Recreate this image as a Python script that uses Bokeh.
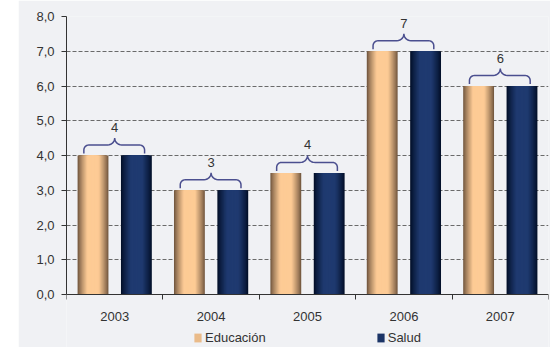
import numpy as np
from bokeh.plotting import figure
from bokeh.layouts import row
from bokeh.models import Range1d, FixedTicker, Legend, LegendItem, Spacer
from bokeh.core.properties import value
from bokeh.embed import file_html
from bokeh.resources import INLINE

# ---- data ----
years = ["2003", "2004", "2005", "2006", "2007"]
educacion = [4.0, 3.0, 3.5, 7.0, 6.0]
salud = [4.0, 3.0, 3.5, 7.0, 6.0]
group_labels = ["4", "3", "4", "7", "6"]
y_ticks = [0, 1, 2, 3, 4, 5, 6, 7, 8]
y_tick_labels = ["0,0", "1,0", "2,0", "3,0", "4,0", "5,0", "6,0", "7,0", "8,0"]

BG = "#F0F1F4"
FONT = "Liberation Sans"
TXT = "#333333"

FIG_W, FIG_H = 532, 347
B_LEFT, B_RIGHT, B_TOP, B_BOTTOM = 48, 2, 16, 0
frame_w = FIG_W - B_LEFT - B_RIGHT
frame_h = FIG_H - B_TOP - B_BOTTOM
ppx = frame_w / 5.0          # px per category
ppy = 278 / 8.0              # px per unit (0..8 spans 278 px)
y_start = -(frame_h - 8 * ppy) / ppy

p = figure(width=FIG_W, height=FIG_H, x_range=Range1d(0, 5), y_range=Range1d(y_start, 8),
           output_backend="svg", toolbar_location=None,
           min_border_left=B_LEFT, min_border_right=B_RIGHT, min_border_top=B_TOP,
           min_border_bottom=B_BOTTOM,
           background_fill_color=BG, border_fill_color=BG, outline_line_color=None)

centers = [i + 0.5 for i in range(len(years))]

# x axis at y=0: labels at centers, tick marks at category boundaries
xa = p.xaxis[0]
xa.fixed_location = 0
xa.bounds = (0, 5)
xa.ticker = FixedTicker(ticks=centers, minor_ticks=list(range(len(years) + 1)))
xa.major_label_overrides = {c: y for c, y in zip(centers, years)}
xa.major_tick_out = 0
xa.major_tick_in = 0
xa.major_tick_line_color = BG
xa.minor_tick_out = 5
xa.minor_tick_in = 0
xa.minor_tick_line_color = TXT
xa.axis_line_color = TXT
xa.major_label_standoff = 12
xa.major_label_text_font = FONT
xa.major_label_text_font_size = "13px"
xa.major_label_text_color = TXT

ya = p.yaxis[0]
ya.bounds = (0, 8)
ya.ticker = FixedTicker(ticks=y_ticks, minor_ticks=[])
ya.major_label_overrides = {t: l for t, l in zip(y_ticks, y_tick_labels)}
ya.major_tick_out = 5
ya.major_tick_in = 0
ya.major_tick_line_color = TXT
ya.axis_line_color = TXT
ya.major_label_standoff = 7
ya.major_label_text_font = FONT
ya.major_label_text_font_size = "13px"
ya.major_label_text_color = TXT

p.xgrid.visible = False
p.ygrid.ticker = FixedTicker(ticks=y_ticks[1:])
p.ygrid.grid_line_color = "#6A6A6A"
p.ygrid.grid_line_dash = "4 2"
p.ygrid.grid_line_width = 1


def hex2rgb(h):
    h = h.lstrip("#")
    return np.array([int(h[i:i + 2], 16) for i in (0, 2, 4)], dtype=float)


def mix(a, b, t):
    c = hex2rgb(a) * (1 - t) + hex2rgb(b) * t
    return "#%02x%02x%02x" % tuple(int(round(v)) for v in c)


bar_w = 0.32
off = 0.225
N = 14
cx = np.array(centers)

legend_refs = {}
for name, vals, xoff, edge, mid in [("Educación", educacion, -off, "#765A41", "#FDCB95"),
                                     ("Salud", salud, off, "#03102A", "#1F3A70")]:
    for k in range(N):
        frac = 1 - k / N
        u = min(1.0, (1 - frac) / 0.6)
        col = mix(edge, mid, u ** 0.85)
        r = p.vbar(x=cx + xoff, top=vals, bottom=0, width=bar_w * frac,
                   fill_color=col, line_color=None)
        if k == 7:
            legend_refs[name] = r

# braces over each pair of bars
xs, ys = [], []
for c, e, s in zip(cx, educacion, salud):
    top = max(e, s)
    x0, x1 = c - 0.32, c + 0.31
    yb = top + 2 / ppy
    yh = top + 10.5 / ppy
    yp = top + 17.5 / ppy
    rx, ry = 5 / ppx, 5 / ppy
    rx2, ry2 = 7 / ppx, yp - yh
    px, py = [x0], [yb]
    t = np.linspace(np.pi, np.pi / 2, 8)
    px += list(x0 + rx + rx * np.cos(t)); py += list(yh - ry + ry * np.sin(t))
    t = np.linspace(-np.pi / 2, 0, 8)
    px += list(c - rx2 + rx2 * np.cos(t)); py += list(yp + ry2 * np.sin(t))
    t = np.linspace(np.pi, 3 * np.pi / 2, 8)
    px += list(c + rx2 + rx2 * np.cos(t)); py += list(yp + ry2 * np.sin(t))
    t = np.linspace(np.pi / 2, 0, 8)
    px += list(x1 - rx + rx * np.cos(t)); py += list(yh - ry + ry * np.sin(t))
    px.append(x1); py.append(yb)
    xs.append(px); ys.append(py)
p.multi_line(xs=xs, ys=ys, line_color="#4B4F8F", line_width=1.5)

p.text(x=cx, y=np.maximum(educacion, salud) + 28 / ppy, text=group_labels,
       text_align="center", text_baseline="middle", text_font=value(FONT),
       text_font_size="13px", text_color=TXT)

legend = Legend(items=[LegendItem(label="Educación", renderers=[legend_refs["Educación"]]),
                       LegendItem(label="Salud", renderers=[legend_refs["Salud"]])],
                location=(127, 2), orientation="horizontal",
                glyph_width=9, glyph_height=11, label_standoff=3, spacing=110,
                padding=0, margin=0, background_fill_alpha=0, border_line_color=None,
                label_text_font=FONT, label_text_font_size="13px", label_text_color=TXT,
                label_height=11)
p.add_layout(legend)

layout = row(Spacer(width=18, height=FIG_H), p)
open("out.html", "w").write(file_html(layout, INLINE))
